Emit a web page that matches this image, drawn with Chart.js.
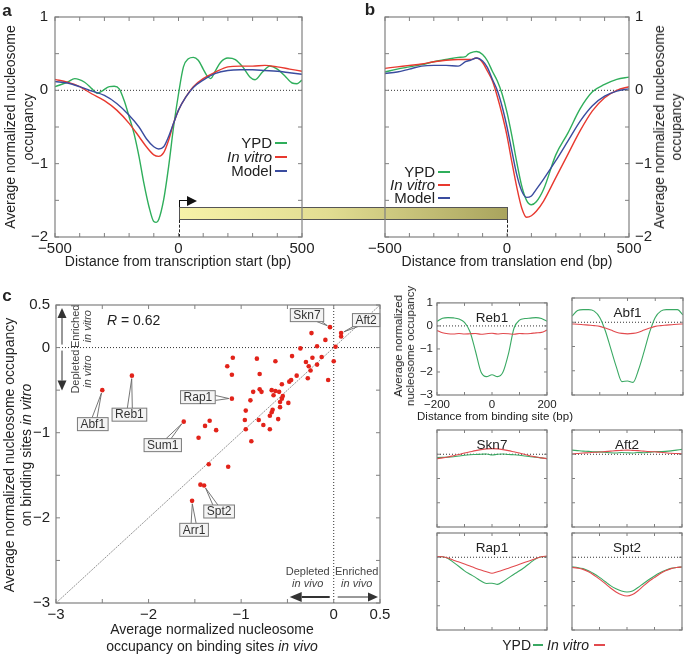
<!DOCTYPE html>
<html>
<head>
<meta charset="utf-8">
<script src="https://cdn.jsdelivr.net/npm/chart.js@4.4.1/dist/chart.umd.min.js"></script>
<style>
body { margin: 0; background: #fff; }
#wrap { position: relative; width: 685px; height: 655px; overflow: hidden; font-family: "Liberation Sans", Arial, sans-serif; color: #222; }
#wrap canvas { position: absolute; z-index: 1; }
.t { position: absolute; white-space: nowrap; line-height: 1.2; z-index: 2; }
</style>
</head>
<body>
<div id="wrap">
  <canvas id="chartA" width="320" height="262" style="left:0;top:0"></canvas>
  <canvas id="chartB" width="345" height="262" style="left:340px;top:0"></canvas>
  <canvas id="chartC" width="400" height="337" style="left:0;top:290px"></canvas>
  <canvas id="reb1" width="160" height="122" style="left:400px;top:292px"></canvas>
  <canvas id="abf1" width="121" height="107" style="left:567px;top:293px"></canvas>
  <canvas id="skn7" width="120" height="107" style="left:432px;top:425px"></canvas>
  <canvas id="aft2" width="120" height="107" style="left:567px;top:425px"></canvas>
  <canvas id="rap1" width="120" height="107" style="left:432px;top:528px"></canvas>
  <canvas id="spt2" width="120" height="107" style="left:567px;top:528px"></canvas>
</div>
<script>
// ---------- data ----------
// panel a: distance from transcription start
const aGreenX = [-500,-450,-420,-380,-350,-330,-310,-280,-260,-240,-220,-200,-180,-160,-140,-120,-100,-90,-80,-60,-40,-20,0,20,40,60,80,100,115,130,150,170,200,230,260,290,310,340,370,400,430,460,480,500];
const aGreen = [0.05,0.11,0.16,0.11,0.02,-0.04,-0.01,0.05,0.055,0.02,-0.14,-0.36,-0.59,-0.9,-1.27,-1.58,-1.79,-1.8,-1.76,-1.49,-1.04,-0.5,-0.05,0.32,0.43,0.45,0.41,0.29,0.2,0.16,0.27,0.38,0.44,0.42,0.32,0.18,0.145,0.25,0.33,0.29,0.2,0.1,0.09,0.14];
const aX = [-500,-450,-400,-350,-300,-250,-200,-160,-130,-100,-80,-60,-40,-20,0,30,60,100,150,200,250,300,350,400,450,500];
const aRed = [0.15,0.11,0.05,-0.05,-0.14,-0.27,-0.45,-0.63,-0.77,-0.88,-0.9,-0.85,-0.68,-0.45,-0.27,-0.09,0.05,0.16,0.25,0.32,0.33,0.33,0.34,0.32,0.29,0.26];
const aBlue = [0.12,0.1,0.05,-0.01,-0.07,-0.18,-0.34,-0.5,-0.66,-0.77,-0.8,-0.77,-0.63,-0.45,-0.27,-0.09,0.04,0.14,0.23,0.27,0.28,0.28,0.27,0.26,0.24,0.22];

// panel b: distance from translation end
const bGreenX = [-500,-450,-400,-350,-300,-250,-200,-170,-160,-150,-125,-100,-80,-60,-40,-20,0,20,40,60,80,100,120,150,200,250,300,350,400,450,500];
const bGreen = [0.25,0.29,0.32,0.35,0.39,0.42,0.45,0.46,0.49,0.51,0.53,0.49,0.4,0.26,0.13,-0.05,-0.3,-0.62,-0.98,-1.3,-1.5,-1.56,-1.52,-1.35,-0.88,-0.58,-0.25,-0.02,0.08,0.15,0.18];
const bX = [-500,-450,-400,-350,-300,-250,-200,-170,-150,-125,-100,-80,-60,-40,-20,0,20,40,60,80,100,120,150,200,250,300,350,400,450,500];
const bRed = [0.3,0.32,0.34,0.36,0.39,0.41,0.42,0.42,0.42,0.44,0.38,0.26,0.13,-0.08,-0.33,-0.62,-0.98,-1.32,-1.6,-1.73,-1.71,-1.65,-1.51,-1.19,-0.87,-0.55,-0.28,-0.1,0,0.05];
const bBlue = [0.23,0.25,0.29,0.33,0.34,0.34,0.33,0.39,0.41,0.44,0.4,0.31,0.15,0,-0.22,-0.5,-0.83,-1.15,-1.37,-1.46,-1.44,-1.35,-1.21,-0.96,-0.69,-0.42,-0.21,-0.08,-0.01,0.02];

// panel c: in vivo vs in vitro occupancy on binding sites
const cVivo = [-0.04,-0.24,-0.09,-0.18,0.02,-0.36,0.08,0.08,0,-0.06,-0.13,-0.23,-0.3,-0.18,-0.27,-0.25,-0.28,-0.45,-0.4,-0.46,-0.48,-0.56,-0.63,-0.83,-0.8,-1.09,-1.15,-1.1,-1.1,-0.87,-0.8,-0.78,-0.67,-0.63,-0.59,-0.65,-0.55,-0.56,-0.58,-0.49,-0.9,-0.95,-0.58,-0.66,-0.67,-0.69,-0.6,-0.81,-0.96,-0.76,-0.95,-0.69,-0.89,-1.62,-1.39,-1.34,-1.27,-1.46,-1.35,-1.14,-2.18,-2.5,-1.44,-1.4,-1.53];
const cVitro = [0.24,0.17,0.09,0.015,0.01,-0.01,0.17,0.13,-0.16,-0.38,-0.11,-0.12,-0.17,-0.2,-0.22,-0.27,-0.36,-0.1,-0.33,-0.38,-0.4,-0.43,-0.16,-0.13,-0.31,-0.12,-0.22,-0.32,-0.6,-0.52,-0.49,-0.52,-0.5,-0.51,-0.52,-0.56,-0.57,-0.6,-0.64,-0.65,-0.62,-0.74,-0.7,-0.73,-0.76,-0.8,-0.84,-0.85,-0.85,-0.91,-0.96,-0.96,-1.1,-0.87,-0.92,-0.86,-0.97,-1.06,-1.37,-1.4,-0.33,-0.5,-1.61,-1.62,-1.8];
const calloutNames = ['Skn7','Aft2','Rap1','Sum1','Reb1','Abf1','Spt2','Arr1'];
const calloutIdx = [0, 6, 28, 53, 60, 61, 63, 64];
const cR = '0.62';

// small panels: distance from binding site
const sX = [-200,-180,-160,-140,-120,-100,-80,-60,-40,-20,0,20,40,60,80,100,120,140,160,180,200];
const reb1Green = [0.2,0.33,0.36,0.35,0.3,0.15,-0.25,-1.1,-2.0,-2.2,-2.12,-2.2,-2.0,-1.2,-0.1,0.25,0.32,0.34,0.36,0.32,0.2];
const reb1Red = [-0.2,-0.3,-0.34,-0.35,-0.33,-0.35,-0.34,-0.33,-0.36,-0.34,-0.32,-0.35,-0.33,-0.34,-0.36,-0.33,-0.34,-0.33,-0.3,-0.28,-0.18];
const abf1Green = [0.25,0.48,0.52,0.52,0.46,0.2,-0.35,-1.1,-1.85,-2.45,-2.42,-2.48,-1.95,-1.2,-0.4,0.2,0.46,0.52,0.52,0.52,0.3];
const abf1Red = [-0.07,-0.08,-0.1,-0.12,-0.14,-0.17,-0.24,-0.32,-0.41,-0.46,-0.48,-0.46,-0.41,-0.32,-0.24,-0.17,-0.14,-0.12,-0.1,-0.08,-0.07];
const skn7Green = [-0.14,-0.13,-0.12,-0.1,-0.07,-0.04,-0.02,-0.01,0,0.01,-0.03,0,0.01,-0.01,-0.02,-0.04,-0.07,-0.1,-0.12,-0.15,-0.18];
const skn7Red = [-0.18,-0.15,-0.11,-0.06,-0.01,0.05,0.1,0.15,0.19,0.22,0.23,0.22,0.19,0.15,0.1,0.05,-0.01,-0.07,-0.11,-0.15,-0.18];
const aft2Green = [0.17,0.15,0.13,0.12,0.1,0.1,0.08,0.06,0.05,0.07,0.06,0.05,0.07,0.06,0.08,0.1,0.11,0.12,0.14,0.17,0.2];
const aft2Red = [0.02,0.03,0.05,0.06,0.08,0.09,0.11,0.13,0.15,0.16,0.17,0.16,0.15,0.13,0.11,0.1,0.08,0.06,0.04,0.03,0.02];
const rap1Green = [0.03,0.02,-0.05,-0.21,-0.38,-0.56,-0.7,-0.83,-0.98,-1.08,-1.07,-1.12,-1.0,-0.85,-0.7,-0.56,-0.4,-0.22,-0.06,0.02,0.03];
const rap1Red = [0.03,0.02,-0.03,-0.12,-0.2,-0.28,-0.36,-0.45,-0.53,-0.6,-0.66,-0.6,-0.53,-0.45,-0.37,-0.29,-0.21,-0.13,-0.05,0.02,0.05];
const spt2Green = [-0.39,-0.42,-0.47,-0.56,-0.68,-0.83,-1.0,-1.17,-1.3,-1.39,-1.43,-1.39,-1.25,-1.08,-0.92,-0.77,-0.64,-0.54,-0.46,-0.42,-0.4];
const spt2Red = [-0.42,-0.45,-0.5,-0.6,-0.74,-0.9,-1.08,-1.27,-1.43,-1.55,-1.6,-1.54,-1.38,-1.18,-0.99,-0.84,-0.68,-0.56,-0.47,-0.42,-0.4];

// ---------- styles ----------
const FONT = '"Liberation Sans", Arial, sans-serif';
const GREEN = '#2fae5b', RED = '#e8392f', BLUE = '#3a4c9f';
const SGREEN = '#3aa963', SRED = '#e24a4e';
Chart.defaults.font.family = FONT;
Chart.defaults.color = '#222';

const fmt = v => (v < 0 ? '\u2212' : '') + Math.abs(v);
const pts = (xs, ys) => xs.map((x, i) => ({ x, y: ys[i] }));
const line = (data, color, w = 1.4) => ({
  data, borderColor: color, borderWidth: w, showLine: true, pointRadius: 0,
  fill: false, cubicInterpolationMode: 'monotone'
});
const zeroLine = (lo, hi) => ({
  data: [{ x: lo, y: 0 }, { x: hi, y: 0 }], borderColor: '#333', borderWidth: 1,
  borderDash: [1, 2], showLine: true, pointRadius: 0
});

function axis(pos, min, max, step, showLabel, fit, size, pad, display = true) {
  return {
    type: 'linear', position: pos, min, max,
    grid: { display: false, drawTicks: false },
    border: { display: false },
    ticks: {
      display, stepSize: step, autoSkip: false, maxRotation: 0, padding: pad,
      color: '#222', font: { size },
      callback: v => showLabel(v) ? fmt(v) : ''
    },
    afterFit: s => { if (s.isHorizontal()) s.height = fit; else s.width = fit; }
  };
}

// box with inward tick marks on all four sides
const boxTicks = {
  id: 'boxTicks',
  afterDatasetsDraw(chart, args, opts) {
    const { ctx, chartArea: a, scales: { x, y } } = chart;
    const len = opts.len || 4;
    ctx.save();
    ctx.strokeStyle = opts.color || '#808080';
    ctx.lineWidth = 1;
    ctx.beginPath();
    x.ticks.forEach(t => {
      const p = x.getPixelForValue(t.value);
      ctx.moveTo(p, a.top); ctx.lineTo(p, a.top + len);
      ctx.moveTo(p, a.bottom); ctx.lineTo(p, a.bottom - len);
    });
    y.ticks.forEach(t => {
      const p = y.getPixelForValue(t.value);
      ctx.moveTo(a.left, p); ctx.lineTo(a.left + len, p);
      ctx.moveTo(a.right, p); ctx.lineTo(a.right - len, p);
    });
    ctx.stroke();
    ctx.lineWidth = opts.width || 1.2;
    ctx.strokeRect(a.left, a.top, a.right - a.left, a.bottom - a.top);
    ctx.restore();
  }
};

const panelTitle = {
  id: 'panelTitle',
  afterDatasetsDraw(chart, args, opts) {
    if (!opts.text) return;
    const { ctx, chartArea: a } = chart;
    ctx.save();
    ctx.font = '13.5px ' + FONT;
    ctx.fillStyle = '#222';
    ctx.textAlign = 'center';
    ctx.textBaseline = 'middle';
    ctx.fillText(opts.text, (a.left + a.right) / 2, a.top + 15);
    ctx.restore();
  }
};
Chart.register(boxTicks, panelTitle);

function arrow(ctx, x1, y1, x2, y2, lw, head, half) {
  const ang = Math.atan2(y2 - y1, x2 - x1);
  const bx = x2 - Math.cos(ang) * head, by = y2 - Math.sin(ang) * head;
  ctx.lineWidth = lw;
  ctx.beginPath(); ctx.moveTo(x1, y1); ctx.lineTo(bx, by); ctx.stroke();
  ctx.beginPath();
  ctx.moveTo(x2, y2);
  ctx.lineTo(bx - Math.sin(ang) * half, by + Math.cos(ang) * half);
  ctx.lineTo(bx + Math.sin(ang) * half, by - Math.cos(ang) * half);
  ctx.closePath(); ctx.fill();
}
function vtext(ctx, s, x, y) {
  ctx.save(); ctx.translate(x, y); ctx.rotate(-Math.PI / 2);
  ctx.fillText(s, 0, 0); ctx.restore();
}

// panel c annotations: callout boxes, R value, enriched / depleted arrows
const cNotes = {
  id: 'cNotes',
  afterDatasetsDraw(chart, args, opts) {
    const { ctx, chartArea: a, scales: { x, y } } = chart;
    const x0 = x.getPixelForValue(0), y0 = y.getPixelForValue(0);
    ctx.save();
    ctx.textAlign = 'center';
    ctx.textBaseline = 'middle';

    // callouts
    ctx.font = '12px ' + FONT;
    calloutNames.forEach((name, k) => {
      const i = calloutIdx[k];
      const px = x.getPixelForValue(cVivo[i]), py = y.getPixelForValue(cVitro[i]);
      const [dx, dy] = opts.offsets[k];
      const cx = px + dx, cy = py + dy;
      const w = ctx.measureText(name).width + 6, h = 13;
      // wedge pointer
      let bx, by, ex = 0, ey = 0;
      const ddx = px - cx, ddy = py - cy;
      if (Math.abs(ddy) * w > Math.abs(ddx) * h) {
        by = cy + Math.sign(ddy) * h / 2;
        bx = Math.max(cx - w / 2 + 3, Math.min(cx + w / 2 - 3, cx + ddx * (h / 2) / Math.abs(ddy)));
        ex = 1;
      } else {
        bx = cx + Math.sign(ddx) * w / 2;
        by = Math.max(cy - h / 2 + 3, Math.min(cy + h / 2 - 3, cy + ddy * (w / 2) / Math.abs(ddx)));
        ey = 1;
      }
      const len = Math.hypot(px - bx, py - by);
      const tx = px - (px - bx) / len * 3, ty = py - (py - by) / len * 3;
      ctx.strokeStyle = '#666'; ctx.lineWidth = 0.9;
      ctx.beginPath();
      ctx.moveTo(bx - ex * 2.5, by - ey * 2.5); ctx.lineTo(tx, ty); ctx.lineTo(bx + ex * 2.5, by + ey * 2.5);
      ctx.stroke();
      ctx.fillStyle = '#f4f4f4';
      ctx.fillRect(cx - w / 2, cy - h / 2, w, h);
      ctx.strokeStyle = '#7a7a7a'; ctx.lineWidth = 1;
      ctx.strokeRect(cx - w / 2, cy - h / 2, w, h);
      ctx.fillStyle = '#333';
      ctx.fillText(name, cx, cy + 0.5);
    });

    // R value
    ctx.fillStyle = '#222';
    ctx.textAlign = 'left';
    ctx.font = 'italic 14px ' + FONT;
    const rx = a.left + 51, ry = a.top + 16;
    ctx.fillText('R', rx, ry);
    const rw = ctx.measureText('R').width;
    ctx.font = '14px ' + FONT;
    ctx.fillText(' = ' + cR, rx + rw, ry);

    // enriched / depleted in vitro (left)
    ctx.fillStyle = ctx.strokeStyle = '#333';
    ctx.textAlign = 'center';
    const ax = a.left + 6;
    arrow(ctx, ax, y0 - 3, ax, a.top + 3, 1, 10, 4.5);
    arrow(ctx, ax, y0 + 3, ax, y0 + 43, 1, 10, 4.5);
    ctx.fillStyle = '#444';
    ctx.font = '11px ' + FONT;
    vtext(ctx, 'Enriched', a.left + 20, (a.top + y0) / 2);
    vtext(ctx, 'Depleted', a.left + 20, y0 + 24);
    ctx.font = 'italic 11px ' + FONT;
    vtext(ctx, 'in vitro', a.left + 32, (a.top + y0) / 2);
    vtext(ctx, 'in vitro', a.left + 32, y0 + 24);

    // depleted / enriched in vivo (bottom)
    ctx.font = '11px ' + FONT;
    ctx.fillText('Depleted', x0 - 26, a.bottom - 31);
    ctx.fillText('Enriched', x0 + 23, a.bottom - 31);
    ctx.font = 'italic 11px ' + FONT;
    ctx.fillText('in vivo', x0 - 26, a.bottom - 19);
    ctx.fillText('in vivo', x0 + 23, a.bottom - 19);
    ctx.fillStyle = ctx.strokeStyle = '#333';
    arrow(ctx, x0 - 4, a.bottom - 6, x0 - 44, a.bottom - 6, 2, 12, 5);
    arrow(ctx, x0 + 4, a.bottom - 6, a.right - 2, a.bottom - 6, 1, 10, 4.5);
    ctx.restore();
  }
};

function makeChart(id, datasets, o, extra = []) {
  return new Chart(document.getElementById(id), {
    type: 'scatter',
    data: { datasets },
    options: {
      responsive: false, animation: false, events: [],
      layout: { padding: o.pad },
      plugins: {
        legend: { display: false }, tooltip: { enabled: false },
        boxTicks: { len: o.tickLen || 4 },
        panelTitle: { text: o.title || '' },
        cNotes: o.notes || {}
      },
      scales: { x: o.x, y: o.y }
    },
    plugins: extra
  });
}

// ---------- panel a ----------
const isInt = v => Number.isInteger(v);
const chartA = makeChart('chartA', [
  line(pts(aX, aBlue), BLUE),
  line(pts(aX, aRed), RED),
  line(pts(aGreenX, aGreen), GREEN),
  zeroLine(-500, 500)
], {
  pad: { top: 17, right: 18, left: 0, bottom: 0 },
  x: axis('bottom', -500, 500, 100, v => v % 500 === 0, 25, 15, 3),
  y: axis('left', -2, 1, 0.5, isInt, 55, 15, 7)
});

// ---------- panel b ----------
const chartB = makeChart('chartB', [
  line(pts(bX, bBlue), BLUE),
  line(pts(bX, bRed), RED),
  line(pts(bGreenX, bGreen), GREEN),
  zeroLine(-500, 500)
], {
  pad: { top: 17, right: 0, left: 45, bottom: 0 },
  x: axis('bottom', -500, 500, 100, v => v % 500 === 0, 25, 15, 3),
  y: axis('right', -2, 1, 0.5, isInt, 56, 15, 6)
});

// ---------- panel c ----------
const cPts = pts(cVivo, cVitro);
makeChart('chartC', [
  { data: cPts, backgroundColor: '#e2231a', borderWidth: 0, pointRadius: 2.3 },
  { data: [{ x: -3, y: -3 }, { x: 0.5, y: 0.5 }], borderColor: '#777', borderWidth: 0.8, borderDash: [2, 1], showLine: true, pointRadius: 0 },
  zeroLine(-3, 0.5),
  { data: [{ x: 0, y: -3 }, { x: 0, y: 0.5 }], borderColor: '#333', borderWidth: 1, borderDash: [1, 2], showLine: true, pointRadius: 0 }
], {
  pad: { top: 12, right: 20, left: 0, bottom: 0 },
  x: axis('bottom', -3, 0.5, 0.5, v => isInt(v) || v === 0.5, 24, 15, 3),
  y: axis('left', -3, 0.5, 0.5, v => isInt(v) || v === 0.5, 56, 15, 6),
  notes: { offsets: [[-23, -12], [25, -13], [-34, -1.5], [-21, 23.5], [-2.5, 39], [-9.5, 34], [15, 26], [2, 29]] }
}, [cNotes]);

// ---------- small panels ----------
const small = [
  ['reb1', 'Reb1', reb1Green, reb1Red],
  ['abf1', 'Abf1', abf1Green, abf1Red],
  ['skn7', 'Skn7', skn7Green, skn7Red],
  ['aft2', 'Aft2', aft2Green, aft2Red],
  ['rap1', 'Rap1', rap1Green, rap1Red],
  ['spt2', 'Spt2', spt2Green, spt2Red]
];
small.forEach(([id, title, g, r], k) => {
  const labelled = k === 0;
  makeChart(id, [
    line(pts(sX, r), SRED, 1.1),
    line(pts(sX, g), SGREEN, 1.1),
    zeroLine(-200, 200)
  ], {
    title, tickLen: 3,
    pad: labelled ? { top: 6, right: 13, left: 0, bottom: 0 } : { top: 5, right: 5, left: 5, bottom: 5 },
    x: axis('bottom', -200, 200, 100, v => v % 200 === 0, labelled ? 19 : 0, 11.5, 3, labelled),
    y: axis('left', -3, 1, 1, isInt, labelled ? 37 : 0, 11.5, 4, labelled)
  });
});

// ---------- text and gene schematic ----------
const wrap = document.getElementById('wrap');
function txt(html, x, y, size, o = {}) {
  const d = document.createElement('div');
  d.className = 't';
  d.innerHTML = html;
  const ax = o.align === 'l' ? '0' : o.align === 'r' ? '-100%' : '-50%';
  d.style.left = x + 'px';
  d.style.top = y + 'px';
  d.style.fontSize = size + 'px';
  if (o.lh) d.style.lineHeight = o.lh + 'px';
  if (o.bold) d.style.fontWeight = 'bold';
  d.style.textAlign = 'center';
  d.style.transform = 'translate(' + ax + ',-50%)' + (o.rot ? ' rotate(-90deg)' : '');
  wrap.appendChild(d);
}
function seg(x1, x2, y, color) {
  const d = document.createElement('div');
  d.style.cssText = `position:absolute;left:${x1}px;top:${Math.round(y) - 1}px;width:${x2 - x1}px;height:2px;background:${color};z-index:2`;
  wrap.appendChild(d);
}

txt('a', 7, 11, 17, { bold: true });
txt('b', 370, 10, 17, { bold: true });
txt('c', 7, 296, 17, { bold: true });

txt('Average normalized nucleosome<br>occupancy', 19, 127, 14, { rot: true, lh: 18 });
txt('Distance from transcription start (bp)', 178, 261, 14);
txt('Average normalized nucleosome<br>occupancy', 668, 127, 14, { rot: true, lh: 17 });
txt('Distance from translation end (bp)', 507, 261, 14);

[['YPD', GREEN], ['<i>In vitro</i>', RED], ['Model', BLUE]].forEach(([s, c], i) => {
  txt(s, 272, 143 + i * 14, 15, { align: 'r' });
  seg(275, 287, 143 + i * 14, c);
  txt(s, 435, 172 + i * 13, 15, { align: 'r' });
  seg(438, 450, 172 + i * 13, c);
});

txt('Average normalized nucleosome occupancy<br>on binding sites <i>in vitro</i>', 18, 455, 14, { rot: true, lh: 17 });
txt('Average normalized nucleosome<br>occupancy on binding sites <i>in vivo</i>', 212, 638, 14, { lh: 17 });

txt('Distance from binding site (bp)', 495, 417, 11.5);
txt('Average normalized<br>nucleosome occupancy', 404, 346, 11.5, { rot: true, lh: 12 });
txt('YPD', 531, 645, 14, { align: 'r' });
seg(533, 543, 645, SGREEN);
txt('<i>In vitro</i>', 547, 645, 14, { align: 'l' });
seg(594, 605, 645, SRED);

// gene schematic spanning from TSS (panel a) to translation end (panel b)
const gx0 = chartA.canvas.offsetLeft + chartA.scales.x.getPixelForValue(0);
const gx1 = chartB.canvas.offsetLeft + chartB.scales.x.getPixelForValue(0);
const gTop = 207, gH = 13;
function box(css) {
  const d = document.createElement('div');
  d.style.cssText = 'position:absolute;box-sizing:border-box;z-index:0;' + css;
  wrap.appendChild(d);
}
box(`left:${gx0}px;top:${gTop}px;width:${gx1 - gx0 + 1}px;height:${gH}px;border:1px solid #555;background:linear-gradient(to right,#f6f2a8,#e2dd92 45%,#a9a45e)`);
box(`left:${gx0}px;top:${gTop + gH}px;width:1px;height:${chartA.chartArea.bottom - gTop - gH}px;border-left:1px dashed #222`);
box(`left:${gx1}px;top:${gTop + gH}px;width:1px;height:${chartB.chartArea.bottom - gTop - gH}px;border-left:1px dashed #222`);
box(`left:${gx0}px;top:${gTop - 7}px;width:9px;height:7px;border-left:1.3px solid #111;border-top:1.3px solid #111;z-index:3`);
box(`left:${gx0 + 8}px;top:${gTop - 11.5}px;width:0;height:0;border-top:5px solid transparent;border-bottom:5px solid transparent;border-left:10px solid #111;z-index:3`);
</script>
</body>
</html>
